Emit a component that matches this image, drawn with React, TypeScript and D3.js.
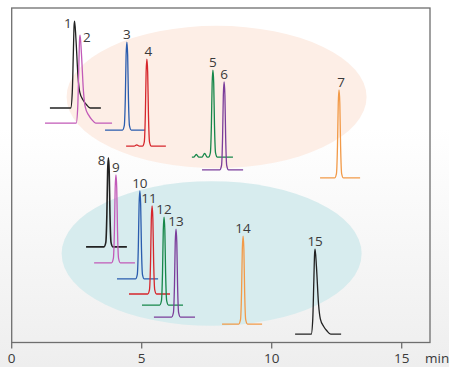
import React from "react";
import { scaleLinear, line, curveMonotoneX } from "d3";

// peak data (time in min, signal in arbitrary units)
const peakLabels = ["1", "2", "3", "4", "5", "6", "7", "8", "9", "10", "11", "12", "13", "14", "15"];
const retention = [2.42, 2.63, 4.43, 5.2, 7.74, 8.17, 12.59, 3.72, 4.01, 4.93, 5.4, 5.86, 6.32, 8.9, 11.67];
const baseline = [70.1, 65.6, 63.5, 58.7, 55.4, 51.6, 49.2, 28.6, 23.8, 19.0, 14.5, 11.2, 7.6, 5.5, 2.5];
const heights = [26.0, 26.3, 26.3, 26.0, 26.0, 26.3, 26.3, 26.6, 26.3, 26.3, 26.3, 26.3, 26.3, 26.3, 25.4];
const traceStart = [1.47, 1.28, 3.59, 4.4, 6.93, 7.32, 11.86, 2.86, 3.17, 4.05, 4.51, 5.01, 5.47, 8.09, 10.9];
const traceEnd = [3.43, 3.86, 5.13, 5.93, 8.51, 8.9, 13.4, 4.43, 4.74, 5.63, 6.09, 6.59, 7.05, 9.63, 12.67];
const tailing = [true, true, false, false, false, false, false, false, false, false, false, false, false, false, true];

// small baseline bumps: [peak index, time, height]
const bumps: [number, number, number][] = [
  [3, 4.81, 0.4],
  [4, 7.1, 0.8],
  [4, 7.42, 1.1],
];

// normalised peak shapes: [offset min, relative height]
const sharpProfile: [number, number][] = [
  [-0.17, 0], [-0.1, 0.05], [-0.06, 0.36], [-0.03, 0.85], [0, 1],
  [0.03, 0.85], [0.06, 0.36], [0.1, 0.05], [0.17, 0],
];
const tailProfile: [number, number][] = [
  [-0.15, 0], [-0.09, 0.18], [-0.05, 0.62], [-0.02, 0.95], [0, 1],
  [0.05, 0.8], [0.13, 0.36], [0.2, 0.18], [0.33, 0.09], [0.45, 0.04], [0.6, 0],
];

const xTicks = [0, 5, 10, 15];

const colors = ["#222", "#c25ab8", "#2a5cae", "#d6262c", "#17874a", "#7b3d9a", "#f29a48",
  "#222", "#c25ab8", "#2a5cae", "#d6262c", "#17874a", "#7b3d9a", "#f29a48", "#222"];
const labelAnchor: Record<string, "start" | "middle" | "end"> = { "1": "end", "2": "start", "8": "end" };
const labelShift: Record<string, number> = { "11": -3, "4": 1.5, "7": 2 };

const W = 449, H = 367;
const left = 11.7, right = 430, top = 8, bottom = 342.5;

export default function App() {
  const x = scaleLinear().domain([0, 15]).range([left, left + 26 * 15]);
  const y = scaleLinear().domain([0, 100]).range([bottom, top]);

  const gen = line<[number, number]>()
    .x((d) => x(d[0]))
    .y((d) => y(d[1]))
    .curve(curveMonotoneX);

  const traces = peakLabels.map((lab, i) => {
    const prof = tailing[i] ? tailProfile : sharpProfile;
    let pts: [number, number][] = [[traceStart[i], baseline[i]]];
    prof.forEach(([dx, r]) => pts.push([retention[i] + dx, baseline[i] + r * heights[i]]));
    bumps.filter((b) => b[0] === i).forEach(([, t, h]) => {
      pts.push([t - 0.1, baseline[i]], [t, baseline[i] + h], [t + 0.1, baseline[i]]);
    });
    pts.push([traceEnd[i], baseline[i]]);
    pts = pts.sort((a, b) => a[0] - b[0]);
    return { lab, d: gen(pts) || "", color: colors[i], ax: x(retention[i]), ay: y(baseline[i] + heights[i]) };
  });

  return (
    <svg width={W} height={H} style={{ position: "absolute", left: 0, top: 0 }}
      fontFamily="'Open Sans', sans-serif">
      <defs>
        <linearGradient id="bg" x1="0" y1="0" x2="0" y2="1">
          <stop offset="0.35" stopColor="#ffffff" />
          <stop offset="1" stopColor="#eeeeee" />
        </linearGradient>
      </defs>
      <rect width={W} height={H} fill="url(#bg)" />

      {/* highlight ellipses */}
      <ellipse cx={x(7.88)} cy={y(73.4)} rx={150} ry={71.2} fill="#fdeee6" />
      <ellipse cx={x(7.69)} cy={y(26.6)} rx={150} ry={72.3} fill="#d7ecee" />

      {traces.map((t) => (
        <path key={t.lab} d={t.d} fill="none" stroke={t.color} strokeWidth={t.lab === "8" ? 1.6 : 1.3}
          strokeLinejoin="round" />
      ))}
      {traces.map((t) => {
        const anchor = labelAnchor[t.lab] || "middle";
        const tx = (anchor === "end" ? t.ax - 3 : anchor === "start" ? t.ax + 3 : t.ax) + (labelShift[t.lab] || 0);
        const ty = anchor === "middle" ? t.ay - 3 : t.ay + 7;
        return (
          <text key={t.lab} x={tx} y={ty} textAnchor={anchor} fontSize={13.5} fill="#3a3a3a">{t.lab}</text>
        );
      })}

      {/* frame */}
      <rect x={left} y={top} width={right - left} height={bottom - top} fill="none" stroke="#6e6e6e" strokeWidth={1.3} />
      {xTicks.map((v) => (
        <g key={v}>
          <line x1={x(v)} x2={x(v)} y1={bottom} y2={bottom + 6} stroke="#6e6e6e" strokeWidth={1.3} />
          <text x={x(v)} y={362.5} textAnchor="middle" fontSize={13.5} fill="#3a3a3a">{v}</text>
        </g>
      ))}
      <text x={425} y={362.5} fontSize={13.5} fill="#3a3a3a">min</text>
    </svg>
  );
}
